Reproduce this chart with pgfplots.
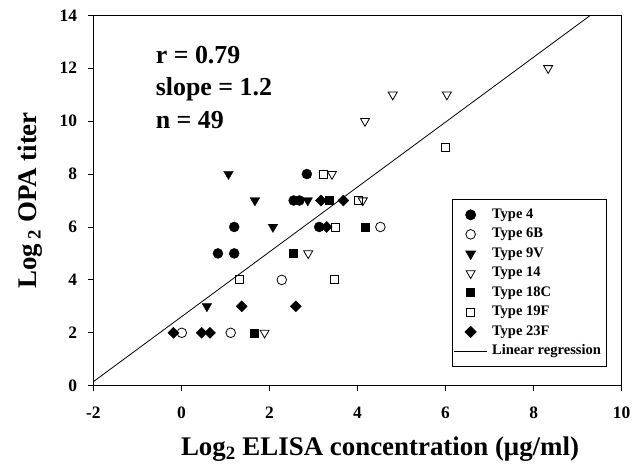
\documentclass[border=0pt]{standalone}
\usepackage{pgfplots}
\pgfplotsset{compat=1.18}
\usepackage{fontspec}
\setmainfont{Liberation Serif}

\begin{document}
\begin{tikzpicture}
\path[use as bounding box] (-93.3bp,-82.3bp) rectangle (546.7bp,385.7bp);
\begin{axis}[
  at={(0,0)}, anchor=south west,
  scale only axis, width=528.4bp, height=370.4bp,
  xmin=-2, xmax=10, ymin=0, ymax=14,
  xtick={-2,0,...,10}, ytick={0,2,...,14},
  xtick pos=bottom, ytick pos=left,
  tick align=outside, major tick length=5bp,
  axis line style={line width=0.9bp},
  every tick/.style={black, line width=0.8bp},
  /pgf/number format/assume math mode=true,
  ticklabel style={font=\fontsize{17.5}{20}\selectfont\bfseries},
  xticklabel style={yshift=-13bp},
  yticklabel style={xshift=-7.6bp},
  xlabel={Log\textsubscript{2} ELISA concentration (μg/ml)},
  ylabel={Log\,\textsubscript{2} OPA titer},
  label style={font=\fontsize{27}{32}\selectfont\bfseries},
  xlabel style={at={(axis description cs:0.5426,-0.172)}, anchor=center},
  ylabel style={at={(axis description cs:-0.119,0.5)}, anchor=center},
  legend style={at={(0.972,0.0505)}, anchor=south east, draw=black, line width=0.8bp,
    font=\fontsize{14.6}{16}\selectfont\bfseries, inner xsep=1bp, inner ysep=5.5bp,
    row sep=0pt, nodes={text height=10bp, text depth=3bp, inner ysep=3.25bp, inner xsep=4.5bp}},
  legend cell align=left,
  legend image code/.code={\draw[mark repeat=2,mark phase=2,#1] plot coordinates {(0bp,0bp) (16.5bp,0bp) (33bp,0bp)};},
]
% Type 4
\addplot[only marks, black, mark=*, mark size=5bp] coordinates {
  (1.2,6) (0.83,5) (1.2,5) (2.85,8) (2.55,7) (2.68,7) (3.13,6)};
\addlegendentry{Type 4}
% Type 6B
\addplot[only marks, black, line width=0.8bp, mark=o, mark size=4.8bp] coordinates {
  (4.52,6) (2.28,4) (0.01,2) (1.12,2)};
\addlegendentry{Type 6B}
% Type 9V
\addplot[only marks, black, mark=triangle*, mark options={rotate=180}, mark size=5.5bp] coordinates {
  (1.07,8) (1.67,7) (2.08,6) (2.87,7) (0.58,3)};
\addlegendentry{Type 9V}
% Type 14
\addplot[only marks, black, line width=0.8bp, mark=triangle, mark options={rotate=180}, mark size=5.2bp] coordinates {
  (3.42,8) (4.12,7) (2.88,5) (1.89,2) (4.17,10) (4.8,11) (6.03,11) (8.33,12)};
\addlegendentry{Type 14}
% Type 18C
\addplot[only marks, black, mark=square*, mark size=4bp] coordinates {
  (3.35,7) (4.17,6) (2.54,5) (1.65,2)};
\addlegendentry{Type 18C}
% Type 19F
\addplot[only marks, black, line width=0.8bp, mark=square, mark size=4bp] coordinates {
  (3.22,8) (4.01,7) (3.5,6) (1.32,4) (3.48,4) (6.0,9)};
\addlegendentry{Type 19F}
% Type 23F
\addplot[only marks, black, mark=square*, mark options={rotate=45}, mark size=3.9bp] coordinates {
  (3.17,7) (3.68,7) (3.3,6) (1.37,3) (2.6,3) (-0.18,2) (0.46,2) (0.65,2)};
\addlegendentry{Type 23F}
% regression
\addplot[black, line width=0.8bp] coordinates {(-2,0.15) (9.29,14)};
\addlegendentry{Linear regression\hspace{7bp}}

\node[anchor=base west, font=\fontsize{26}{30}\selectfont\bfseries] at (axis cs:-0.66,12.16) {r = 0.79};
\node[anchor=base west, font=\fontsize{26}{30}\selectfont\bfseries] at (axis cs:-0.66,10.95) {slope = 1.2};
\node[anchor=base west, font=\fontsize{26}{30}\selectfont\bfseries] at (axis cs:-0.66,9.73) {n = 49};
\end{axis}
\end{tikzpicture}
\end{document}
